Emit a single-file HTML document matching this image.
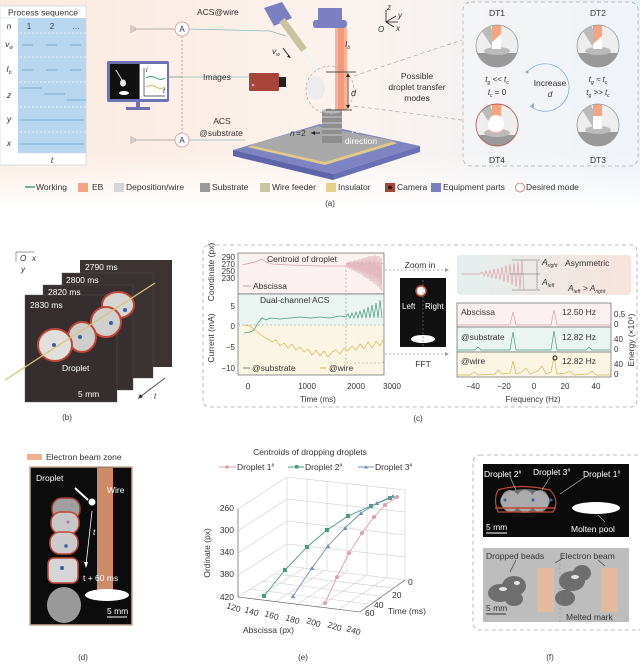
<!DOCTYPE html>
<html><head><meta charset="utf-8"><style>
html,body{margin:0;padding:0;background:#fff}
svg{display:block}
text{font-family:"Liberation Sans",sans-serif;fill:#333}
</style></head><body>
<svg width="640" height="664" viewBox="0 0 640 664" xmlns="http://www.w3.org/2000/svg">
<defs>
<linearGradient id="bgA" x1="0" x2="1" y1="0" y2="0"><stop offset="0" stop-color="#fbe9de"/><stop offset="0.55" stop-color="#fbf3ee"/><stop offset="1" stop-color="#e9f0f7"/></linearGradient>
<linearGradient id="fadeA" x1="0" x2="0" y1="0" y2="1"><stop offset="0" stop-color="#fff" stop-opacity="0"/><stop offset="1" stop-color="#fff" stop-opacity="1"/></linearGradient>
<linearGradient id="asym" x1="0" x2="1"><stop offset="0" stop-color="#e3efee"/><stop offset="1" stop-color="#f8e3dc"/></linearGradient>
<radialGradient id="glow"><stop offset="0" stop-color="#fff"/><stop offset="0.6" stop-color="#ddd"/><stop offset="1" stop-color="#555" stop-opacity="0"/></radialGradient>
<clipPath id="c1"><circle cx="497" cy="46" r="21"/></clipPath>
<clipPath id="c2"><circle cx="598" cy="46" r="21"/></clipPath>
<clipPath id="c3"><circle cx="598" cy="125" r="21"/></clipPath>
<clipPath id="c4"><circle cx="497" cy="125" r="21"/></clipPath>
</defs>

<!-- ===== Panel (a) ===== -->
<rect x="0" y="0" width="640" height="205" fill="url(#bgA)"/>
<rect x="0" y="150" width="640" height="60" fill="url(#fadeA)"/>
<!-- table -->
<rect x="0" y="6" width="86" height="159" fill="#fff" stroke="#bcd" stroke-width="0.6"/>
<rect x="18" y="18" width="68" height="135" fill="#b8d7ee"/>
<text x="43" y="15.5" font-size="8.5" text-anchor="middle">Process sequence</text>
<g stroke="#fff" stroke-dasharray="2,2" stroke-width="0.8">
<line x1="0" y1="33" x2="86" y2="33"/><line x1="0" y1="57" x2="86" y2="57"/><line x1="0" y1="82" x2="86" y2="82"/><line x1="0" y1="107" x2="86" y2="107"/><line x1="0" y1="132" x2="86" y2="132"/>
</g>
<g stroke="#cde" stroke-width="0.6"><line x1="0" y1="18" x2="18" y2="18"/><line x1="18" y1="153" x2="86" y2="153"/></g>
<g font-size="8.5" font-style="italic" text-anchor="middle">
<text x="9" y="29">n</text><text x="9" y="47">v<tspan font-size="5" dy="2">w</tspan></text><text x="9" y="72">I<tspan font-size="5" dy="2">b</tspan></text><text x="9" y="98">z</text><text x="9" y="122">y</text><text x="9" y="146">x</text><text x="52" y="163">t</text></g>
<g font-size="8" text-anchor="middle"><text x="29" y="29">1</text><text x="52" y="29">2</text><text x="76" y="29">…</text></g>
<g stroke="#6a9fc6" stroke-width="0.8">
<line x1="22" y1="45" x2="33" y2="45"/><line x1="46" y1="45" x2="57" y2="45"/><line x1="70" y1="45" x2="81" y2="45"/>
<line x1="22" y1="70" x2="33" y2="70"/><line x1="46" y1="70" x2="57" y2="70"/><line x1="70" y1="70" x2="81" y2="70"/>
<line x1="20" y1="88" x2="42" y2="88"/><line x1="44" y1="94" x2="65" y2="94"/><line x1="67" y1="100" x2="86" y2="100"/>
<line x1="20" y1="120" x2="84" y2="120"/><line x1="20" y1="144" x2="84" y2="144"/>
</g>
<!-- grounds & ammeters -->
<g stroke="#999" stroke-width="0.8" fill="none">
<line x1="131" y1="25" x2="131" y2="33"/><line x1="133" y1="26" x2="133" y2="32"/><line x1="135" y1="27" x2="135" y2="31"/><line x1="135" y1="29" x2="175" y2="29"/>
<line x1="131" y1="136" x2="131" y2="144"/><line x1="133" y1="137" x2="133" y2="143"/><line x1="135" y1="138" x2="135" y2="142"/><line x1="135" y1="140" x2="175" y2="140"/>
<line x1="189" y1="29" x2="270" y2="31" stroke="#8bb"/><line x1="270" y1="31" x2="286" y2="36" stroke="#8bb"/>
<line x1="189" y1="140" x2="245" y2="140" stroke="#8bb"/>
<line x1="169" y1="77" x2="250" y2="77" stroke="#9bb"/>
<line x1="182" y1="36" x2="182" y2="133" stroke-dasharray="2,2"/><line x1="169" y1="77" x2="182" y2="77"/>
</g>
<circle cx="182" cy="29" r="7" fill="#fff" stroke="#c99" stroke-width="0.8"/><text x="182" y="32" font-size="8" text-anchor="middle">A</text>
<circle cx="182" cy="140" r="7" fill="#fff" stroke="#c99" stroke-width="0.8"/><text x="182" y="143" font-size="8" text-anchor="middle">A</text>
<text x="197" y="15" font-size="8.5">ACS@wire</text>
<text x="203" y="80" font-size="8.5">Images</text>
<text x="222" y="124" font-size="8.5" text-anchor="middle">ACS</text>
<text x="221" y="136" font-size="8.5" text-anchor="middle">@substrate</text>
<!-- monitor -->
<rect x="107" y="61" width="62" height="41" rx="2" fill="#6c72b3"/>
<rect x="110" y="64" width="29" height="35" fill="#111"/>
<rect x="140" y="64" width="27" height="35" fill="#fff"/>
<line x1="116" y1="70" x2="122" y2="80" stroke="#ddd" stroke-width="1"/><ellipse cx="123" cy="83" rx="3" ry="3.5" fill="#eee"/><ellipse cx="124" cy="93" rx="5" ry="2" fill="#fff"/>
<path d="M144 68 V96 H165" stroke="#333" stroke-width="0.7" fill="none"/>
<path d="M146 78 q5 -3 10 0 t9 0" stroke="#3a9a7a" fill="none"/><path d="M146 87 q5 -3 10 0 t9 0" stroke="#d9b55a" fill="none"/>
<text x="146" y="72" font-size="7" font-style="italic">i</text><text x="163" y="93" font-size="7" font-style="italic">t</text>
<rect x="136" y="102" width="4" height="6" fill="#6c72b3"/><rect x="126" y="107" width="24" height="3" fill="#6c72b3"/>
<!-- camera -->
<rect x="249" y="73" width="30" height="18" rx="1" fill="#a8453a"/><rect x="279" y="77" width="7" height="10" fill="#222"/><circle cx="253" cy="85" r="1.3" fill="#e8c"/>
<!-- platform -->
<polygon points="233,150 320,124 420,146 333,174" fill="#7e84c2"/>
<polygon points="233,150 333,174 333,180 233,156" fill="#5e64a8"/>
<polygon points="333,174 420,146 420,152 333,180" fill="#6a70b4"/>
<polygon points="247,147 318,127 398,143 325,165" fill="#e1c98a"/>
<polygon points="249,145 318,126 395,141 325,162" fill="#a9a9a9"/>
<!-- deposit -->
<rect x="322" y="111" width="20" height="32" fill="#8e8e8e"/>
<g stroke="#ddd" stroke-width="0.8"><line x1="322" y1="117" x2="342" y2="117"/><line x1="322" y1="123" x2="342" y2="123"/><line x1="322" y1="129" x2="342" y2="129"/><line x1="322" y1="135" x2="342" y2="135"/></g>
<ellipse cx="332" cy="111" rx="10" ry="2.5" fill="#bbb"/>
<text x="290" y="136" font-size="8.5" font-style="italic">n</text><text x="296" y="136" font-size="8.5">=2</text>
<path d="M320 133 H311" stroke="#222" stroke-width="1"/><path d="M311 133 l4 -2 v4z" fill="#222"/>
<text x="361" y="133" font-size="8.5" fill="#fff" style="fill:#fff" text-anchor="middle">Axial</text>
<text x="361" y="144" font-size="8.5" style="fill:#fff" text-anchor="middle">direction</text>
<!-- EB gun -->
<rect x="335" y="28" width="12" height="82" fill="#f5a98b" opacity="0.85"/>
<rect x="338" y="28" width="6" height="82" fill="#f39a7a"/>
<rect x="318" y="8" width="24" height="16" fill="#7b80c2"/><rect x="313" y="20" width="34" height="8" rx="3" fill="#7b80c2"/>
<path d="M331 110 l2 -6 l2 6z" fill="#fff"/>
<text x="345" y="47" font-size="8.5" font-style="italic">I<tspan font-size="5" dy="2">b</tspan></text>
<!-- wire feeder -->
<polygon points="264,8 282,2 292,18 274,26" fill="#7b80c2"/>
<line x1="282" y1="20" x2="304" y2="50" stroke="#c8c3a0" stroke-width="7"/>
<line x1="304" y1="50" x2="318" y2="76" stroke="#f2f2f2" stroke-width="3"/>
<ellipse cx="316" cy="88" rx="9" ry="12" fill="#ececec"/>
<text x="272" y="54" font-size="8.5" font-style="italic">v<tspan font-size="5" dy="2">w</tspan></text>
<path d="M283 48 l6 8" stroke="#222"/><path d="M291 58 l-4 -1 l2 -2z" fill="#222"/>
<circle cx="330" cy="90" r="24" fill="none" stroke="#aaa" stroke-dasharray="3,2" stroke-width="0.7"/>
<g stroke="#222" stroke-width="0.8"><line x1="326" y1="72" x2="356" y2="72"/><line x1="326" y1="110" x2="352" y2="110"/><line x1="348" y1="74" x2="348" y2="108"/></g>
<path d="M348 73 l-2 4 h4z M348 109 l-2 -4 h4z" fill="#222"/>
<text x="351" y="96" font-size="9" font-style="italic">d</text>
<!-- axes -->
<g stroke="#222" stroke-width="0.8"><line x1="386" y1="22" x2="386" y2="10"/><line x1="386" y1="22" x2="398" y2="22"/><line x1="386" y1="22" x2="396" y2="16"/><line x1="386" y1="22" x2="394" y2="27"/></g>
<text x="387" y="10" font-size="8" font-style="italic">z</text><text x="398" y="18" font-size="8" font-style="italic">y</text><text x="396" y="31" font-size="8" font-style="italic">x</text><text x="378" y="32" font-size="8" font-style="italic">O</text>
<g font-size="8.5" text-anchor="middle"><text x="417" y="79">Possible</text><text x="417" y="90">droplet transfer</text><text x="417" y="101">modes</text></g>
<g stroke="#aaa" stroke-dasharray="4,3" stroke-width="0.7"><line x1="354" y1="76" x2="462" y2="40"/><line x1="354" y1="106" x2="462" y2="120"/></g>
<rect x="463" y="2" width="175" height="164" rx="8" fill="#f6f7fa" fill-opacity="0.5" stroke="#aaa" stroke-dasharray="4,3" stroke-width="0.7"/>
<!-- DT circles -->
<g clip-path="url(#c1)"><rect x="470" y="20" width="60" height="60" fill="#eee"/><rect x="470" y="53" width="60" height="20" fill="#999"/><ellipse cx="497" cy="51" rx="13" ry="4" fill="#bbb"/><polygon points="476,22 488,22 500,45 492,47" fill="#bbb"/><rect x="492" y="22" width="9" height="27" fill="#f3a583"/><polygon points="492,49 501,49 501,34 492,42" fill="#fff"/></g>
<circle cx="497" cy="46" r="21" fill="none" stroke="#999" stroke-width="0.8"/>
<g clip-path="url(#c2)"><rect x="570" y="20" width="60" height="60" fill="#eee"/><rect x="570" y="53" width="60" height="20" fill="#999"/><ellipse cx="598" cy="51" rx="13" ry="4" fill="#bbb"/><polygon points="577,22 589,22 601,45 593,47" fill="#bbb"/><rect x="593" y="22" width="9" height="27" fill="#f3a583"/><polygon points="593,49 602,49 602,36 593,44" fill="#fff"/></g>
<circle cx="598" cy="46" r="21" fill="none" stroke="#999" stroke-width="0.8"/>
<g clip-path="url(#c3)"><rect x="570" y="100" width="60" height="60" fill="#eee"/><rect x="570" y="132" width="60" height="20" fill="#999"/><ellipse cx="598" cy="130" rx="13" ry="4" fill="#bbb"/><polygon points="577,102 589,102 601,125 593,127" fill="#bbb"/><rect x="593" y="102" width="9" height="27" fill="#f3a583"/><rect x="593" y="116" width="9" height="13" fill="#fff"/></g>
<circle cx="598" cy="125" r="21" fill="none" stroke="#999" stroke-width="0.8"/>
<g clip-path="url(#c4)"><rect x="470" y="100" width="60" height="60" fill="#eee"/><rect x="470" y="135" width="60" height="20" fill="#999"/><ellipse cx="497" cy="133" rx="13" ry="4" fill="#bbb"/><polygon points="476,102 488,102 500,125 492,127" fill="#bbb"/><rect x="492" y="102" width="9" height="20" fill="#f3a583"/><ellipse cx="496" cy="124" rx="8" ry="9" fill="#fff"/><path d="M488 130 q8 5 16 0" stroke="#f3a583" fill="none"/></g>
<circle cx="497" cy="125" r="21" fill="none" stroke="#b56060" stroke-width="0.9"/>
<g font-size="8.5" text-anchor="middle"><text x="497" y="16">DT1</text><text x="598" y="16">DT2</text><text x="497" y="163">DT4</text><text x="598" y="163">DT3</text>
<text x="550" y="86">Increase</text><text x="550" y="97" font-style="italic">d</text></g>
<g font-size="8" text-anchor="middle" font-style="italic"><text x="497" y="82">t<tspan font-size="5" dy="2">g</tspan><tspan dy="-2"> &lt;&lt; t</tspan><tspan font-size="5" dy="2">c</tspan></text><text x="497" y="95">t<tspan font-size="5" dy="2">c</tspan><tspan dy="-2" font-style="normal"> = 0</tspan></text>
<text x="598" y="82">t<tspan font-size="5" dy="2">g</tspan><tspan dy="-2"> ≈ t</tspan><tspan font-size="5" dy="2">c</tspan></text><text x="598" y="95">t<tspan font-size="5" dy="2">g</tspan><tspan dy="-2"> &gt;&gt; t</tspan><tspan font-size="5" dy="2">c</tspan></text></g>
<path d="M527 72 A24 24 0 0 1 569 86 A24 24 0 0 1 530 106" stroke="#8ab0d6" fill="none" stroke-width="0.8"/><circle cx="527" cy="72" r="1.5" fill="#8ab0d6"/><path d="M530 106 l4 -3 l0 5z" fill="#8ab0d6"/>
<!-- legend -->
<g font-size="8.5">
<line x1="25" y1="187" x2="35" y2="187" stroke="#4a9a80" stroke-width="1.5"/><text x="36" y="190">Working</text>
<rect x="78" y="183" width="10" height="9" fill="#f3a583"/><text x="92" y="190">EB</text>
<rect x="114" y="183" width="10" height="9" fill="#d5d5d5"/><text x="126" y="190">Deposition/wire</text>
<rect x="200" y="183" width="10" height="9" fill="#9a9a9a"/><text x="212" y="190">Substrate</text>
<rect x="260" y="183" width="10" height="9" fill="#c9c6a8"/><text x="272" y="190">Wire feeder</text>
<rect x="326" y="183" width="10" height="9" fill="#e8d08a"/><text x="338" y="190">Insulator</text>
<rect x="385" y="183" width="10" height="9" fill="#a8453a"/><circle cx="390" cy="187.5" r="2" fill="#222"/><text x="397" y="190">Camera</text>
<rect x="431" y="183" width="10" height="9" fill="#7b80c2"/><text x="443" y="190">Equipment parts</text>
<circle cx="520" cy="187.5" r="4.5" fill="#fff" stroke="#c77" stroke-width="0.8"/><text x="526" y="190">Desired mode</text>
</g>
<text x="330" y="206" font-size="8" text-anchor="middle">(a)</text>

<!-- ===== Panel (b) ===== -->
<g>
<rect x="80" y="260" width="92" height="107" fill="#3d3333"/>
<rect x="62" y="273" width="91" height="105" fill="#3a3131" stroke="#555" stroke-width="0.4"/>
<rect x="43" y="285" width="90" height="105" fill="#383030" stroke="#555" stroke-width="0.4"/>
<rect x="25" y="295" width="92" height="107" fill="#362e2e" stroke="#555" stroke-width="0.4"/>
<ellipse cx="118" cy="305" rx="16" ry="13" fill="#d8d6d3" stroke="#c0463a" stroke-width="2"/>
<ellipse cx="106" cy="322" rx="15" ry="15" fill="#d2d0cd" stroke="#c0463a" stroke-width="2"/>
<ellipse cx="82" cy="337" rx="14" ry="15" fill="#d0cecb" stroke="#c0463a" stroke-width="2"/>
<ellipse cx="55" cy="345" rx="17" ry="16" fill="#e2e0dd" stroke="#c0463a" stroke-width="2"/>
<circle cx="125" cy="310" r="2" fill="#3560a8"/><circle cx="111" cy="323" r="2" fill="#3560a8"/><circle cx="80" cy="337" r="2" fill="#3560a8"/><circle cx="54" cy="345" r="2" fill="#3560a8"/>
<line x1="5" y1="380" x2="155" y2="283" stroke="#d8c47a" stroke-width="1.3"/>
<g font-size="8.5" style="fill:#fff"><text x="85" y="270" style="fill:#fff">2790 ms</text><text x="66" y="283" style="fill:#fff">2800 ms</text><text x="48" y="295" style="fill:#fff">2820 ms</text><text x="30" y="308" style="fill:#fff">2830 ms</text><text x="62" y="371" style="fill:#fff">Droplet</text><text x="78" y="397" style="fill:#fff">5 mm</text></g>
<line x1="165" y1="378" x2="140" y2="397" stroke="#333" stroke-width="0.8"/><path d="M138 399 l2 -5 l3 3z" fill="#333"/>
<text x="154" y="399" font-size="8" font-style="italic">t</text>
<g stroke="#777" stroke-width="0.7"><line x1="16" y1="252" x2="16" y2="262"/><line x1="16" y1="252" x2="34" y2="252"/></g>
<text x="20" y="261" font-size="8" font-style="italic">O</text><text x="32" y="261" font-size="8" font-style="italic">x</text><text x="21" y="272" font-size="8" font-style="italic">y</text>
<text x="67" y="420" font-size="8" text-anchor="middle">(b)</text>
</g>

<!-- ===== Panel (c) ===== -->
<rect x="203" y="245" width="434" height="162" rx="6" fill="none" stroke="#aaa" stroke-dasharray="4,3" stroke-width="0.8"/>
<rect x="238" y="253" width="146" height="41" fill="#fbf1f1" stroke="#666" stroke-width="0.7"/>
<rect x="238" y="294" width="146" height="31" fill="#eaf4f0"/>
<rect x="238" y="325" width="146" height="50" fill="#fbf6e4"/>
<rect x="238" y="294" width="146" height="81" fill="none" stroke="#666" stroke-width="0.7"/>
<line x1="238" y1="325" x2="384" y2="325" stroke="#999" stroke-dasharray="2,2" stroke-width="0.6"/>
<rect x="346" y="263" width="38" height="100" rx="3" fill="none" stroke="#999" stroke-dasharray="2,2" stroke-width="0.6"/>
<path d="M242 265 L255 262 L262 259 L266 262 L272 264 L290 265 L320 266 L346 266 L347 263 L348 268 L349 262 L350 269 L351 261 L352 270 L353 261 L354 271 L355 260 L356 272 L357 260 L358 273 L359 259 L360 274 L361 259 L362 275 L363 258 L364 277 L365 258 L366 278 L367 257 L368 279 L369 256 L370 281 L371 256 L372 282 L373 256 L374 284 L375 255 L376 285 L377 256 L378 287 L379 256 L380 289 L381 258 L382 291" stroke="#d9a0aa" fill="none" stroke-width="0.7"/>
<path d="M244 333 L250 332 L254 330 L258 323 L262 318 L266 320 L270 318 L280 319 L290 318 L300 317 L310 318 L320 317 L330 318 L340 316 L346 317 L348 314 L350 318 L352 313 L354 318 L356 312 L358 318 L360 311 L362 318 L364 309 L366 318 L368 307 L370 318 L372 305 L374 318 L376 303 L378 318 L380 300 L382 318" stroke="#4a9a80" fill="none" stroke-width="0.7"/>
<path d="M244 325 L250 326 L255 330 L260 334 L264 337 L268 339 L272 342 L276 340 L280 346 L284 343 L288 348 L292 344 L296 350 L300 347 L304 352 L308 349 L312 355 L316 350 L320 356 L324 351 L328 357 L332 352 L336 350 L340 354 L344 348 L348 351 L352 346 L356 350 L360 344 L364 349 L368 342 L372 348 L376 341 L380 346 L383 340" stroke="#d9b55a" fill="none" stroke-width="0.7"/>
<g font-size="8.5"><text x="267" y="262">Centroid of droplet</text><text x="253" y="289">Abscissa</text><text x="260" y="303">Dual-channel ACS</text><text x="252" y="371">@substrate</text><text x="329" y="371">@wire</text></g>
<line x1="243" y1="286" x2="251" y2="286" stroke="#d9a0aa"/><line x1="243" y1="368" x2="250" y2="368" stroke="#4a9a80"/><line x1="320" y1="368" x2="327" y2="368" stroke="#d9b55a"/>
<g font-size="8" text-anchor="end"><text x="235" y="260">290</text><text x="235" y="267">270</text><text x="235" y="274">250</text><text x="235" y="281">230</text><text x="235" y="309">5</text><text x="235" y="329">0</text><text x="235" y="350">−5</text><text x="235" y="371">−10</text></g>
<g font-size="8" text-anchor="middle"><text x="248" y="389">0</text><text x="307" y="389">1000</text><text x="356" y="389">2000</text><text x="392" y="389">3000</text><text x="318" y="402">Time (ms)</text></g>
<text transform="translate(214,272) rotate(-90)" font-size="8.5" text-anchor="middle">Coordinate (px)</text>
<text transform="translate(214,338) rotate(-90)" font-size="8.5" text-anchor="middle">Current (mA)</text>
<text x="420" y="268" font-size="8.5" text-anchor="middle">Zoom in</text>
<text x="423" y="367" font-size="8.5" text-anchor="middle">FFT</text>
<g stroke="#999" stroke-dasharray="2,2" stroke-width="0.7"><line x1="385" y1="270" x2="446" y2="270"/><line x1="385" y1="354" x2="446" y2="354"/></g>
<path d="M449 270 l-4 -2 v4z M449 354 l-4 -2 v4z" fill="#999"/>
<rect x="400" y="278" width="46" height="69" fill="#111"/>
<circle cx="421" cy="291" r="5" fill="#fff" stroke="#c0463a" stroke-width="1.5"/>
<ellipse cx="423" cy="339" rx="12" ry="4" fill="#fff"/>
<line x1="423" y1="280" x2="423" y2="346" stroke="#888" stroke-dasharray="2,2" stroke-width="0.6"/>
<text x="402" y="309" font-size="8" style="fill:#fff">Left</text><text x="425" y="309" font-size="8" style="fill:#fff">Right</text>
<rect x="457" y="255" width="174" height="40" rx="3" fill="url(#asym)"/>
<path d="M461 274 L480 274 L482 272 L484 276 L486 271 L488 277 L490 270 L492 278 L494 269 L496 279 L498 268 L500 280 L502 267 L504 282 L506 265 L508 283 L510 264 L512 285 L514 263 L516 287 L518 262 L520 289 L522 260 L524 290" stroke="#d9a0aa" fill="none" stroke-width="0.7"/>
<g stroke="#666" stroke-width="0.5"><line x1="512" y1="260" x2="540" y2="260"/><line x1="510" y1="274" x2="540" y2="274"/><line x1="512" y1="290" x2="540" y2="290"/><line x1="537" y1="261" x2="537" y2="289"/></g>
<g font-size="8.5" font-style="italic"><text x="542" y="265">A<tspan font-size="5" dy="2">right</tspan></text><text x="542" y="285">A<tspan font-size="5" dy="2">left</tspan></text><text x="568" y="291">A<tspan font-size="5" dy="2">left</tspan><tspan dy="-2"> &gt; A</tspan><tspan font-size="5" dy="2">right</tspan></text></g>
<text x="565" y="266" font-size="8.5">Asymmetric</text>
<rect x="457" y="303" width="154" height="24" fill="#fbf1f1"/><rect x="457" y="327" width="154" height="25" fill="#eaf4f0"/><rect x="457" y="352" width="154" height="25" fill="#fbf6e4"/>
<g fill="none" stroke="#666" stroke-width="0.7"><rect x="457" y="303" width="154" height="74"/><line x1="457" y1="327" x2="611" y2="327"/><line x1="457" y1="352" x2="611" y2="352"/></g>
<path d="M458 325 L510 325 L513 312 L516 325 L551 325 L554 310 L557 325 L610 325" stroke="#d9a0aa" fill="none" stroke-width="0.7"/>
<path d="M458 350 L475 350 L478 347 L481 350 L510 350 L513 332 L516 350 L551 350 L554 331 L557 350 L586 350 L589 347 L592 350 L610 350" stroke="#4a9a80" fill="none" stroke-width="0.7"/>
<path d="M458 375 L470 375 L474 372 L478 375 L495 374 L498 370 L502 374 L510 373 L513 361 L516 374 L522 372 L526 368 L530 374 L538 371 L542 366 L546 374 L551 372 L554 357 L557 374 L566 373 L570 371 L574 375 L588 374 L592 371 L596 375 L610 375" stroke="#d9b55a" fill="none" stroke-width="0.7"/>
<circle cx="555" cy="358" r="2" fill="none" stroke="#222"/>
<g font-size="8.5"><text x="461" y="315">Abscissa</text><text x="461" y="340">@substrate</text><text x="461" y="364">@wire</text><text x="562" y="315">12.50 Hz</text><text x="562" y="340">12.82 Hz</text><text x="562" y="364">12.82 Hz</text></g>
<g font-size="8"><text x="614" y="317">0.5</text><text x="614" y="327">0</text><text x="614" y="342">40</text><text x="614" y="352">0</text><text x="614" y="367">40</text><text x="614" y="377">0</text></g>
<text transform="translate(634,340) rotate(-90)" font-size="8.5" text-anchor="middle">Energy (×10⁶)</text>
<g font-size="8" text-anchor="middle"><text x="473" y="389">−40</text><text x="504" y="389">−20</text><text x="534" y="389">0</text><text x="565" y="389">20</text><text x="596" y="389">40</text><text x="533" y="402">Frequency (Hz)</text></g>
<text x="418" y="421" font-size="8" text-anchor="middle">(c)</text>

<!-- ===== Panel (d) ===== -->
<rect x="27" y="454" width="15" height="6" fill="#f0b090"/>
<text x="46" y="460" font-size="8.5">Electron beam zone</text>
<rect x="30" y="467" width="102" height="158" fill="#0c0c0c" stroke="#c9a899" stroke-width="1.5"/>
<rect x="97" y="468" width="16" height="122" fill="#cf8a68"/>
<ellipse cx="64" cy="605" rx="17" ry="18" fill="#bdbdbd" opacity="0.8"/>
<g stroke="#c0463a" stroke-width="1.5" fill="#d5d5d5">
<rect x="52" y="498" width="28" height="22" rx="10" fill="#c4c4c4" opacity="0.8"/>
<rect x="51" y="512" width="28" height="22" rx="10" fill="#c8c8c8"/>
<rect x="50" y="532" width="28" height="22" rx="10" fill="#cccccc"/>
<rect x="48" y="558" width="30" height="25" rx="6" fill="#d5d5d5"/>
</g>
<circle cx="72" cy="505" r="1.5" fill="#a8a"/><circle cx="68" cy="522" r="1.5" fill="#a7a"/><circle cx="66" cy="546" r="1.8" fill="#3560a8"/><circle cx="62" cy="568" r="2" fill="#3560a8"/>
<line x1="75" y1="488" x2="88" y2="500" stroke="#fff" stroke-width="2"/><circle cx="92" cy="502" r="3.5" fill="#fff"/>
<path d="M92 511 Q90 530 86 565" stroke="#fff" fill="none" stroke-width="0.8"/><path d="M86 568 l-2 -6 h4z" fill="#fff"/>
<ellipse cx="107" cy="595" rx="22" ry="6" fill="#fff"/>
<g font-size="8.5" style="fill:#fff"><text x="36" y="481" style="fill:#fff">Droplet</text><text x="107" y="493" style="fill:#fff">Wire</text><text x="83" y="581" style="fill:#fff">t + 60 ms</text><text x="107" y="614" style="fill:#fff">5 mm</text><text x="93" y="535" style="fill:#fff" font-style="italic">t</text></g>
<line x1="107" y1="617" x2="127" y2="617" stroke="#fff"/>
<text x="83" y="660" font-size="8" text-anchor="middle">(d)</text>

<!-- ===== Panel (e) ===== -->
<text x="310" y="455" font-size="8.5" text-anchor="middle">Centroids of dropping droplets</text>
<g font-size="8.5">
<line x1="219" y1="467" x2="236" y2="467" stroke="#e0a0aa"/><circle cx="227" cy="467" r="1.8" fill="#e0a0aa"/><text x="237" y="470">Droplet 1<tspan font-size="5" dy="-3">#</tspan></text>
<line x1="288" y1="467" x2="304" y2="467" stroke="#4a9a80"/><rect x="295" y="465" width="3.5" height="3.5" fill="#4a9a80"/><text x="305" y="470">Droplet 2<tspan font-size="5" dy="-3">#</tspan></text>
<line x1="358" y1="467" x2="374" y2="467" stroke="#6f8fb8"/><path d="M366 465 l2 3.5 h-4z" fill="#6f8fb8"/><text x="375" y="470">Droplet 3<tspan font-size="5" dy="-3">#</tspan></text>
</g>
<g stroke="#ccc" stroke-width="0.6" fill="none">
<polygon points="238,509 287,477 405,490 405,580 360,612 238,597"/>
<line x1="287" y1="477" x2="287" y2="566"/><line x1="287" y1="566" x2="238" y2="597"/><line x1="287" y1="566" x2="405" y2="580"/>
<line x1="307" y1="479" x2="307" y2="568"/><line x1="327" y1="481" x2="327" y2="571"/><line x1="347" y1="483" x2="347" y2="573"/><line x1="367" y1="486" x2="367" y2="575"/><line x1="387" y1="488" x2="387" y2="578"/>
<line x1="238" y1="531" x2="287" y2="499"/><line x1="238" y1="553" x2="287" y2="521"/><line x1="238" y1="575" x2="287" y2="544"/>
<line x1="287" y1="499" x2="405" y2="512"/><line x1="287" y1="521" x2="405" y2="535"/><line x1="287" y1="544" x2="405" y2="557"/>
<line x1="255" y1="599" x2="304" y2="568"/><line x1="275" y1="602" x2="324" y2="571"/><line x1="296" y1="605" x2="345" y2="573"/><line x1="317" y1="608" x2="366" y2="576"/><line x1="338" y1="610" x2="386" y2="578"/>
<line x1="250" y1="589" x2="368" y2="604"/><line x1="262" y1="581" x2="380" y2="596"/><line x1="275" y1="574" x2="393" y2="588"/>
</g>
<g stroke="#555" stroke-width="0.6"><line x1="238" y1="509" x2="238" y2="597"/><line x1="238" y1="597" x2="360" y2="612"/><line x1="360" y1="612" x2="405" y2="580"/></g>
<polyline points="325,603 337,577 349,553 362,533 374,517 385,505 397,497" fill="none" stroke="#e0a0aa" stroke-width="0.9"/>
<g fill="#e0a0aa"><circle cx="325" cy="603" r="2"/><circle cx="337" cy="577" r="2"/><circle cx="349" cy="553" r="2"/><circle cx="362" cy="533" r="2"/><circle cx="374" cy="517" r="2"/><circle cx="385" cy="505" r="2"/><circle cx="397" cy="497" r="2"/></g>
<polyline points="264,596 285,570 307,547 327,530 348,516 371,506 390,498" fill="none" stroke="#4a9a80" stroke-width="0.9"/>
<g fill="#4a9a80"><rect x="262" y="594" width="4" height="4"/><rect x="283" y="568" width="4" height="4"/><rect x="305" y="545" width="4" height="4"/><rect x="325" y="528" width="4" height="4"/><rect x="346" y="514" width="4" height="4"/><rect x="369" y="504" width="4" height="4"/><rect x="388" y="496" width="4" height="4"/></g>
<polyline points="293,596 312,568 328,546 345,528 361,513 377,503 393,496" fill="none" stroke="#6f8fb8" stroke-width="0.9"/>
<g fill="#6f8fb8"><path d="M293 594 l2.3 4 h-4.6z"/><path d="M312 566 l2.3 4 h-4.6z"/><path d="M328 544 l2.3 4 h-4.6z"/><path d="M345 526 l2.3 4 h-4.6z"/><path d="M361 511 l2.3 4 h-4.6z"/><path d="M377 501 l2.3 4 h-4.6z"/><path d="M393 494 l2.3 4 h-4.6z"/></g>
<g font-size="8.5" text-anchor="end"><text x="234" y="511">260</text><text x="234" y="533">300</text><text x="234" y="555">340</text><text x="234" y="577">380</text><text x="234" y="600">420</text></g>
<g font-size="8.5"><text transform="translate(226,608) rotate(18)">120</text><text transform="translate(244,612) rotate(18)">140</text><text transform="translate(264,616) rotate(18)">160</text><text transform="translate(285,620) rotate(18)">180</text><text transform="translate(306,623) rotate(18)">200</text><text transform="translate(327,627) rotate(18)">220</text><text transform="translate(346,631) rotate(18)">240</text>
<text x="365" y="616">60</text><text x="374" y="608">40</text><text x="392" y="598">20</text><text x="408" y="585">0</text></g>
<text x="243" y="633" font-size="8.5">Abscissa (px)</text>
<text x="388" y="614" font-size="8.5">Time (ms)</text>
<text transform="translate(210,553) rotate(-90)" font-size="8.5" text-anchor="middle">Ordinate (px)</text>
<text x="303" y="660" font-size="8" text-anchor="middle">(e)</text>

<!-- ===== Panel (f) ===== -->
<rect x="473" y="455" width="172" height="175" rx="7" fill="none" stroke="#aaa" stroke-dasharray="4,3" stroke-width="0.8"/>
<rect x="483" y="464" width="146" height="73" fill="#0b0b0b"/>
<ellipse cx="525" cy="501" rx="25" ry="12" fill="#9a9a9a" opacity="0.7"/>
<g fill="#bfbfbf" opacity="0.75"><ellipse cx="510" cy="501" rx="9" ry="11"/><ellipse cx="525" cy="501" rx="9" ry="11"/><ellipse cx="540" cy="501" rx="9" ry="11"/></g>
<path d="M498 490 Q520 483 550 490 Q560 500 553 512 L498 512 Q493 500 498 490z" fill="none" stroke="#c0463a" stroke-width="1.2"/>
<line x1="495" y1="508" x2="556" y2="508" stroke="#c0463a" stroke-width="1.5"/>
<circle cx="505" cy="500" r="1.5" fill="#3560a8"/><circle cx="533" cy="500" r="1.5" fill="#3560a8"/><circle cx="551" cy="500" r="1.5" fill="#3560a8"/>
<ellipse cx="596" cy="508" rx="24" ry="6" fill="#fff"/>
<g stroke="#ccc" stroke-width="0.6"><line x1="510" y1="477" x2="516" y2="490"/><line x1="550" y1="477" x2="542" y2="490"/><line x1="585" y1="477" x2="560" y2="494"/><line x1="598" y1="515" x2="605" y2="522"/></g>
<g font-size="8.5" style="fill:#fff"><text x="484" y="477" style="fill:#fff">Droplet 2<tspan font-size="5" dy="-3">#</tspan></text><text x="533" y="475" style="fill:#fff">Droplet 3<tspan font-size="5" dy="-3">#</tspan></text><text x="583" y="477" style="fill:#fff">Droplet 1<tspan font-size="5" dy="-3">#</tspan></text><text x="486" y="530" style="fill:#fff">5 mm</text><text x="571" y="532" style="fill:#fff">Molten pool</text></g>
<line x1="486" y1="533" x2="507" y2="533" stroke="#fff"/>
<rect x="483" y="548" width="146" height="74" fill="#bdbdbd"/>
<g fill="#6e6e6e"><ellipse cx="500" cy="593" rx="12" ry="9"/><ellipse cx="514" cy="586" rx="12" ry="10"/><ellipse cx="514" cy="599" rx="9" ry="7"/><ellipse cx="572" cy="581" rx="13" ry="10"/><ellipse cx="565" cy="598" rx="10" ry="8"/><ellipse cx="582" cy="573" rx="9" ry="8"/></g>
<g fill="#e6e6e6"><ellipse cx="503" cy="589" rx="4" ry="2"/><ellipse cx="575" cy="577" rx="4" ry="2"/><ellipse cx="517" cy="583" rx="3" ry="2"/></g>
<rect x="537" y="568" width="17" height="44" fill="#e9b89b" opacity="0.9"/><rect x="601" y="568" width="17" height="44" fill="#e9b89b" opacity="0.9"/>
<line x1="560" y1="560" x2="560" y2="622" stroke="#888" stroke-dasharray="2,2" stroke-width="0.5"/>
<g stroke="#333" stroke-width="0.6"><line x1="516" y1="560" x2="510" y2="572"/><line x1="563" y1="558" x2="555" y2="563"/><line x1="598" y1="560" x2="605" y2="566"/></g>
<g font-size="8.5"><text x="486" y="559">Dropped beads</text><text x="560" y="559">Electron beam</text><text x="486" y="611">5 mm</text><text x="566" y="620">Melted mark</text></g>
<line x1="486" y1="614" x2="506" y2="614" stroke="#333"/>
<text x="550" y="660" font-size="8" text-anchor="middle">(f)</text>
</svg>
</body></html>
